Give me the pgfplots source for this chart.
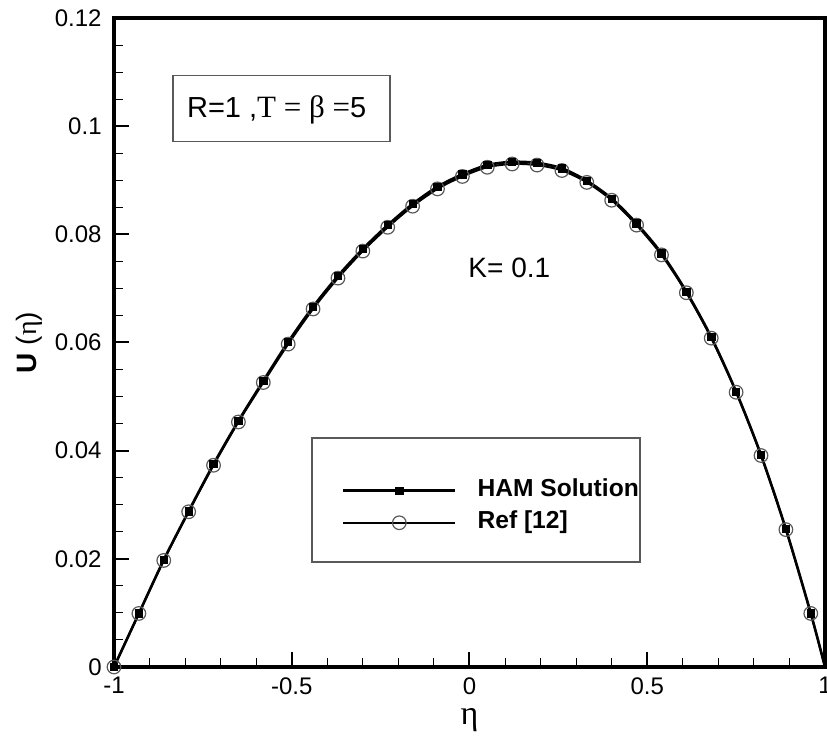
\documentclass[border=0pt]{standalone}
\usepackage{fontspec}
\setmainfont{Liberation Sans}
\newfontfamily\serif{Liberation Serif}
\usepackage{pgfplots}
\usepackage{pgfplotstable}
\pgfplotsset{compat=1.18}

\pgfplotstableread{
x y
-1.00 0
-0.93 0.0099
-0.86 0.0198
-0.79 0.0288
-0.72 0.0375
-0.65 0.0455
-0.58 0.0529
-0.51 0.0601
-0.44 0.0666
-0.37 0.0723
-0.30 0.0773
-0.23 0.0817
-0.16 0.0856
-0.09 0.0888
-0.02 0.0911
0.05 0.0928
0.12 0.0934
0.19 0.0932
0.26 0.0922
0.33 0.0899
0.40 0.0866
0.47 0.0820
0.54 0.0765
0.61 0.0694
0.68 0.0610
0.75 0.0509
0.82 0.0392
0.89 0.0255
0.96 0.0099
1.00 0
}\hamdata

\pgfplotstableread{
x y
-1.00 0
-0.93 0.0099
-0.86 0.0197
-0.79 0.0287
-0.72 0.0373
-0.65 0.0453
-0.58 0.0526
-0.51 0.0597
-0.44 0.0662
-0.37 0.0719
-0.30 0.0769
-0.23 0.0813
-0.16 0.0852
-0.09 0.0884
-0.02 0.0907
0.05 0.0924
0.12 0.0930
0.19 0.0928
0.26 0.0918
0.33 0.0896
0.40 0.0863
0.47 0.0817
0.54 0.0762
0.61 0.0692
0.68 0.0608
0.75 0.0508
0.82 0.0391
0.89 0.0254
0.96 0.0099
1.00 0
}\refdata

\begin{document}
\begin{tikzpicture}
\useasboundingbox (-57pt,-35pt) rectangle (356.5pt,333.5pt);
\begin{axis}[
  at={(0,0)}, anchor=south west,
  scale only axis, width=355.5pt, height=324.5pt,
  clip=false,
  xmin=-1, xmax=1, ymin=0, ymax=0.12,
  xtick={-1,-0.5,0,0.5,1}, xticklabels={-1,-0.5,0,0.5,1},
  ytick={0,0.02,0.04,0.06,0.08,0.1,0.12},
  yticklabels={0,0.02,0.04,0.06,0.08,0.1,0.12},
  minor x tick num=4, minor y tick num=3,
  tick align=inside, xtick pos=bottom, ytick pos=left,
  major tick length=7.5pt, minor tick length=4.5pt,
  every major tick/.append style={line width=1pt, black},
  every minor tick/.append style={line width=0.5pt, black},
  tick label style={font=\fontsize{12}{14}\selectfont},
  xticklabel style={anchor=north, inner sep=0pt, yshift=-5pt},
  yticklabel style={anchor=east, inner sep=0pt, xshift=-6pt},
  xlabel={\serif η},
  xlabel style={at={(axis description cs:0.5,-0.0632)}, anchor=north, inner sep=0pt, font=\fontsize{17}{19}\selectfont},
  ylabel={\textbf{U} ({\serif η})},
  ylabel style={at={(axis description cs:-0.0999,0.5)}, anchor=south, inner sep=0pt, font=\fontsize{14}{16}\selectfont},
  reverse legend,
  legend cell align=left,
  legend style={at={(axis cs:-0.3586,0.0348)}, anchor=north west, draw=none, fill=none,
    inner sep=0pt, outer sep=0pt, row sep=4pt,
    font=\fontsize{12.3}{14}\selectfont\bfseries,
    nodes={inner sep=0pt, text height=9pt, text depth=3pt},
    /tikz/every odd column/.append style={column sep=10.5pt}},
  legend image code/.code={\draw[#1, mark indices={2}] plot coordinates {(0pt,0pt) (28pt,0pt) (56pt,0pt)};},
]
\addplot[black, line width=1pt, smooth, mark=o, mark size=3.4pt,
  mark indices={1,2,3,4,5,6,7,8,9,10,11,12,13,14,15,16,17,18,19,20,21,22,23,24,25,26,27,28,29},
  mark options={draw=gray!70!black, line width=0.6pt, fill=none}] table[x=x,y=y] {\refdata};
\addlegendentry{Ref [12]}
\addplot[black, line width=1.3pt, smooth, mark=square*, mark size=1.85pt,
  mark indices={1,2,3,4,5,6,7,8,9,10,11,12,13,14,15,16,17,18,19,20,21,22,23,24,25,26,27,28,29},
  mark options={fill=black, line width=0.4pt}] table[x=x,y=y] {\hamdata};
\addlegendentry{HAM Solution}

\draw[black, line width=2pt] (rel axis cs:0,0) rectangle (rel axis cs:1,1);
\draw[gray!70!black, line width=0.6pt] (axis cs:-0.834,0.09723) rectangle (axis cs:-0.2236,0.10943);
\node[anchor=base west, inner sep=0pt, font=\fontsize{14.5}{16}\selectfont] at (axis cs:-0.7955,0.10161) {R=1 ,{\serif\fontsize{15.5}{17}\selectfont T = β =}5};
\draw[gray!70!black, line width=0.6pt] (axis cs:-0.4430,0.01941) rectangle (axis cs:0.4796,0.04233);
\node[anchor=base west, inner sep=0pt, font=\fontsize{14}{16}\selectfont] at (axis cs:-0.004,0.0721) {K= 0.1};
\end{axis}
\end{tikzpicture}
\end{document}
